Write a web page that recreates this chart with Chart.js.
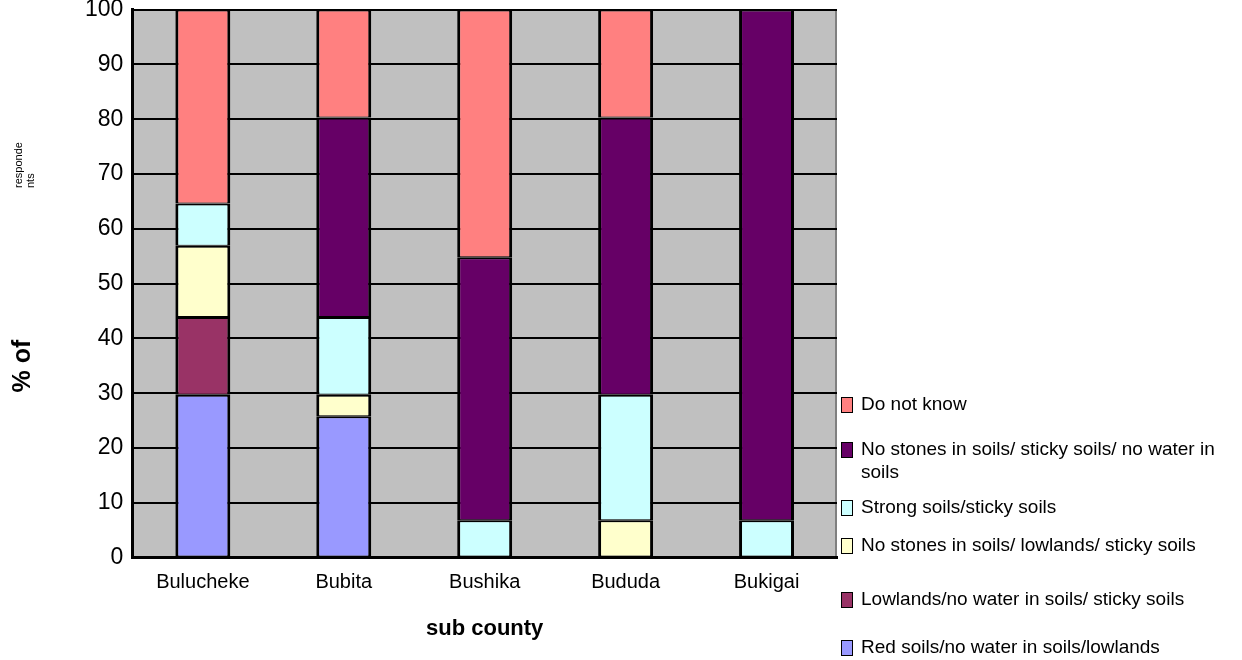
<!DOCTYPE html>
<html>
<head>
<meta charset="utf-8">
<title>Soil characteristics by sub county</title>
<script src="https://cdn.jsdelivr.net/npm/chart.js@4/dist/chart.umd.min.js"></script>
<style>
  html, body { margin: 0; padding: 0; background: #ffffff; }
  #wrap { width: 1242px; height: 660px; }
</style>
</head>
<body>
<div id="wrap"><canvas id="chart" width="1242" height="660"></canvas></div>
<script>
// Sub counties along the x axis
const categories = ['Bulucheke', 'Bubita', 'Bushika', 'Bududa', 'Bukigai'];

// Series, listed from the bottom of each stack to the top (% of respondents)
const redSoils         = [29.7, 25.8, 0,    0,    0];
const lowlandsNoWater  = [14.2, 0,    0,    0,    0];
const noStonesLowlands = [13.0, 3.9,  0,    6.8,  0];
const strongSoils      = [7.7,  14.2, 6.8,  22.9, 6.8];
const noStonesSticky   = [0,    36.4, 48.0, 50.6, 93.2];
const doNotKnow        = [35.4, 19.7, 45.2, 19.7, 0];

const seriesNames = [
  'Red soils/no water in soils/lowlands',
  'Lowlands/no water in soils/ sticky soils',
  'No stones in soils/ lowlands/ sticky soils',
  'Strong soils/sticky soils',
  'No stones in soils/ sticky soils/ no water in soils',
  'Do not know'
];
const seriesColors = ['#9999FF', '#993366', '#FFFFCC', '#CCFFFF', '#660066', '#FF8080'];

const yTickValues = [0, 10, 20, 30, 40, 50, 60, 70, 80, 90, 100];
const xAxisTitle = 'sub county';
const yAxisTitle = '% of';
const yAxisTitleSmall = ['responde', 'nts'];

const FONT = "'Liberation Sans', Arial, Helvetica, sans-serif";

// Grey plot area with a thin darker right edge
const plotBackground = {
  id: 'plotBackground',
  beforeDraw(chart) {
    const { ctx, chartArea: a } = chart;
    ctx.save();
    ctx.fillStyle = '#C0C0C0';
    ctx.fillRect(a.left, a.top, a.width, a.height);
    ctx.strokeStyle = '#808080';
    ctx.lineWidth = 2;
    ctx.beginPath();
    ctx.moveTo(a.right - 1, a.top);
    ctx.lineTo(a.right - 1, a.bottom);
    ctx.stroke();
    ctx.restore();
  }
};

// Rotated y axis title, the second word set in a small font
const yTitle = {
  id: 'yTitle',
  afterDraw(chart, args, opts) {
    const { ctx } = chart;
    ctx.save();
    ctx.fillStyle = '#000';
    ctx.translate(opts.mainX, opts.mainY);
    ctx.rotate(-Math.PI / 2);
    ctx.textAlign = 'center';
    ctx.textBaseline = 'middle';
    ctx.font = 'bold 25px ' + FONT;
    ctx.fillText(yAxisTitle, 0, 0);
    ctx.restore();

    ctx.save();
    ctx.fillStyle = '#000';
    ctx.translate(opts.smallX, opts.smallY);
    ctx.rotate(-Math.PI / 2);
    ctx.textAlign = 'left';
    ctx.textBaseline = 'middle';
    ctx.font = '11px ' + FONT;
    yAxisTitleSmall.forEach((line, i) => ctx.fillText(line, 0, i * opts.smallLine));
    ctx.restore();
  }
};

// Legend beside the plot, top series first, long names wrapped to the canvas edge
const sideLegend = {
  id: 'sideLegend',
  afterDraw(chart, args, opts) {
    const { ctx, chartArea: a } = chart;
    const boxX = a.right + opts.boxGap;
    const textX = a.right + opts.textGap;
    const maxW = chart.width - textX - 6;
    ctx.save();
    ctx.font = opts.fontSize + 'px ' + FONT;
    ctx.textBaseline = 'middle';
    ctx.textAlign = 'left';
    const items = chart.data.datasets.map((ds, i) => ({ ds, i })).reverse();
    items.forEach((item, k) => {
      const y = opts.rows[k];
      const words = item.ds.label.split(' ');
      const lines = [];
      let cur = '';
      words.forEach(w => {
        const t = cur ? cur + ' ' + w : w;
        if (cur && ctx.measureText(t).width > maxW) { lines.push(cur); cur = w; }
        else cur = t;
      });
      if (cur) lines.push(cur);
      ctx.fillStyle = item.ds.backgroundColor;
      ctx.fillRect(boxX, y - 8, 12, 16);
      ctx.strokeStyle = '#000';
      ctx.lineWidth = 1;
      ctx.strokeRect(boxX + 0.5, y - 7.5, 11, 15);
      ctx.fillStyle = '#000';
      lines.forEach((ln, j) => ctx.fillText(ln, textX, y + j * opts.lineHeight));
    });
    ctx.restore();
  }
};

const series = [redSoils, lowlandsNoWater, noStonesLowlands, strongSoils, noStonesSticky, doNotKnow];

new Chart(document.getElementById('chart'), {
  type: 'bar',
  data: {
    labels: categories,
    datasets: series.map((values, i) => ({
      label: seriesNames[i],
      data: values,
      backgroundColor: seriesColors[i],
      borderColor: '#000',
      borderWidth: { top: 2, bottom: 1, left: 3, right: 3 },
      borderSkipped: false,
      barPercentage: 0.39,
      categoryPercentage: 1
    }))
  },
  options: {
    responsive: false,
    animation: false,
    devicePixelRatio: 1,
    layout: { padding: { left: 76, right: 405, top: 1, bottom: 18 } },
    plugins: {
      legend: { display: false },
      tooltip: { enabled: false },
      yTitle: { mainX: 23, mainY: 366, smallX: 19, smallY: 188, smallLine: 12 },
      sideLegend: { boxGap: 4, textGap: 24, fontSize: 19, lineHeight: 23, rows: [405, 450, 508, 546, 600, 648] }
    },
    scales: {
      x: {
        stacked: true,
        grid: { display: false, drawTicks: false },
        border: { display: true, color: '#000', width: 3 },
        ticks: { color: '#000', font: { family: FONT, size: 20 }, padding: 13 },
        title: {
          display: true, text: xAxisTitle, color: '#000',
          font: { family: FONT, size: 22, weight: 'bold' },
          padding: { top: 8, bottom: 0 }
        }
      },
      y: {
        stacked: true,
        min: 0,
        max: 100,
        afterBuildTicks: axis => { axis.ticks = yTickValues.map(v => ({ value: v })); },
        grid: { color: '#000', lineWidth: 2, drawTicks: false },
        border: { color: '#000', width: 3 },
        ticks: { color: '#000', font: { family: FONT, size: 23, lineHeight: 0.05 }, padding: 9 }
      }
    }
  },
  plugins: [plotBackground, yTitle, sideLegend]
});
</script>
</body>
</html>
